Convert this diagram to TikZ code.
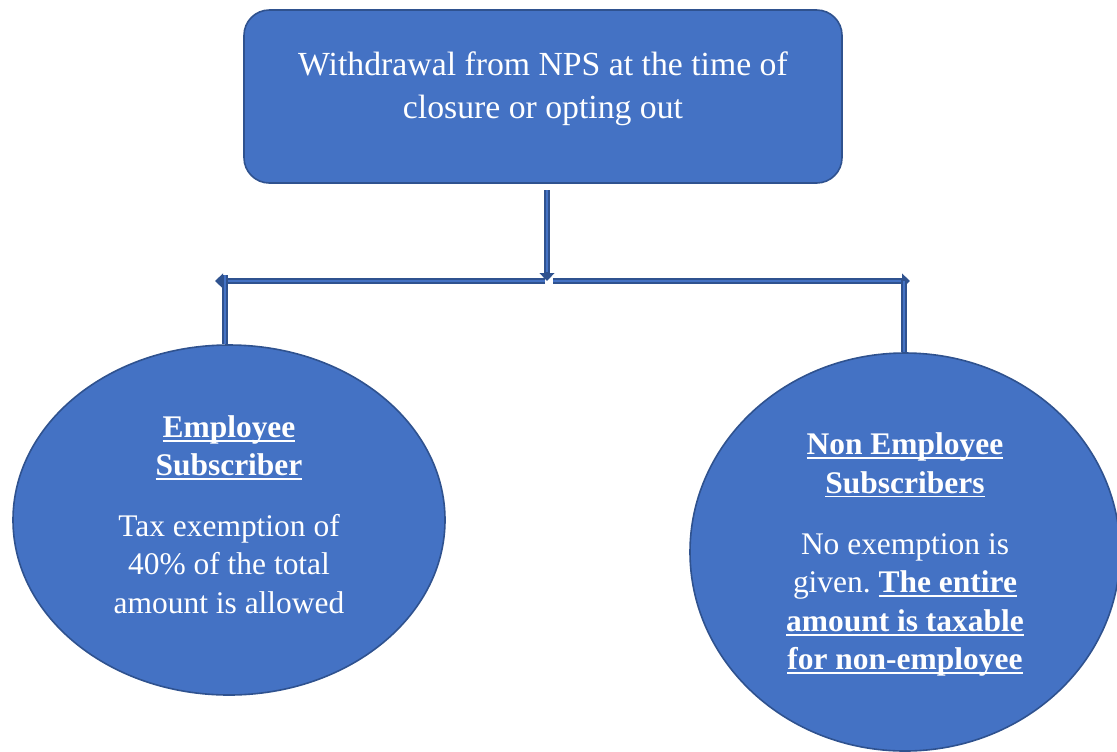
\documentclass[tikz,border=0pt]{standalone}
\usepackage{fontspec}
\setmainfont{Liberation Serif}
\usetikzlibrary{shapes.geometric,arrows.meta}
\definecolor{boxfill}{HTML}{4472C4}
\definecolor{boxline}{HTML}{2F528F}
\tikzset{
  topbox/.style={draw=boxline, fill=boxfill, line width=1.2pt, rounded corners=19pt,
    minimum width=448.5pt, minimum height=129.75pt, inner sep=0pt},
  toptext/.style={text=white, align=center, font=\fontsize{25.3pt}{32pt}\selectfont, inner sep=0pt},
  ellbox/.style={ellipse, draw=boxline, fill=boxfill, line width=1.2pt, inner sep=0pt},
  elltext/.style={text=white, align=center, inner sep=0pt,
    font=\fontsize{23.6pt}{28.9pt}\selectfont\frenchspacing},
  conn/.style={draw=boxline, line width=4.5pt,
    postaction={draw=boxfill, line width=1.5pt, arrows=-}},
  connarrow/.style={draw=boxline, line width=4.5pt, -{Triangle[length=6pt,width=11pt]},
    postaction={draw=boxfill, line width=1.5pt, arrows=-, shorten >=6.5pt}},
}
\newcommand{\bu}[1]{\textbf{\setbox0=\hbox{#1}\leavevmode\rlap{\rule[-0.14em]{\wd0}{0.06em}}\box0}}
\begin{document}
\begin{tikzpicture}[x=0.75pt,y=-0.75pt]
\useasboundingbox (0,0) rectangle (1117,751);
\clip (0,0) rectangle (1117,751);
% coordinates
\coordinate (j) at (547,281);
\coordinate (jl) at (545,281);
\coordinate (jr) at (553,281);
\coordinate (lt) at (215,281);
\coordinate (rt) at (910,281);
\coordinate (lv) at (225,275);
\coordinate (rv) at (904,281);
% shapes
\node[topbox] (top) at (543,96.5) {};
\node[toptext] (toptxt) at ([yshift=6pt]top.center) {Withdrawal from NPS at the time of\\closure or opting out};
\node[ellbox, minimum width=324pt, minimum height=262.5pt] (L) at (229,520) {};
\node[elltext] (Ltxt) at ([yshift=4pt]L.center)
  {\bu{Employee}\\\bu{Subscriber}\\[16.5pt]Tax exemption of\\40\% of the total\\amount is allowed};
\node[ellbox, minimum width=322.5pt, minimum height=298.5pt] (R) at (905,552) {};
\node[elltext] (Rtxt) at ([yshift=-2pt]R.center)
  {\bu{Non Employee}\\\bu{Subscribers}\\[17pt]No exemption is\\given. \bu{The entire}\\\bu{amount is taxable}\\\bu{for non-employee}};
% connectors
\draw[connarrow, shorten <=5pt] (top.south -| j) -- (j);
\draw[connarrow] (jl) -- (lt);
\draw[connarrow] (jr) -- (rt);
\draw[conn] (lv) -- (lv |- L.north);
\draw[conn] (rv) -- (rv |- R.north);
\end{tikzpicture}
\end{document}
